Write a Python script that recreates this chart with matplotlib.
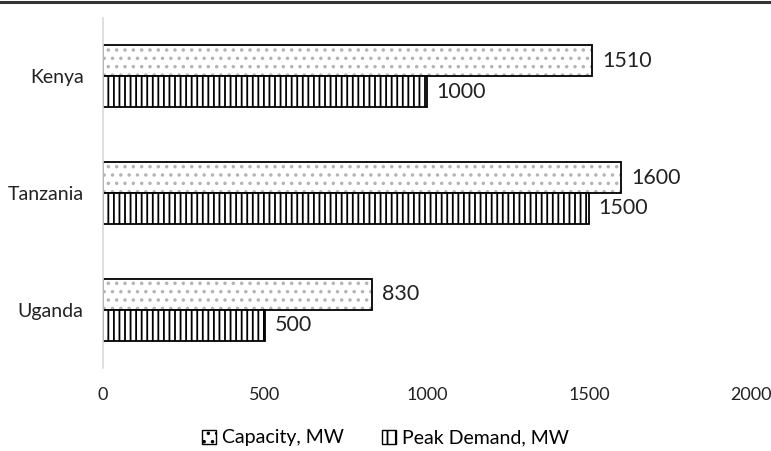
import matplotlib.pyplot as plt
import numpy as np
from matplotlib.lines import Line2D
from matplotlib.patches import Patch

plt.rcParams['font.family'] = ['Lato', 'DejaVu Sans']
plt.rcParams['hatch.linewidth'] = 1.3

countries = ['Uganda', 'Tanzania', 'Kenya']
capacity = [830, 1600, 1510]
peak_demand = [500, 1500, 1000]
x_ticks = [0, 500, 1000, 1500, 2000]

fig = plt.figure(figsize=(7.71, 4.51), dpi=100)
ax = fig.add_axes([103 / 771, 1 - 368 / 451, 648 / 771, 350 / 451])

y = np.arange(len(countries))
h = 0.265

# capacity: light grey dots under a black outline
ax.barh(y + h / 2, capacity, h, color='white', edgecolor='#b4b4b4', hatch='..', linewidth=0)
ax.barh(y + h / 2, capacity, h, color='none', edgecolor='black', linewidth=1.3)
# peak demand: vertical stripes
ax.barh(y - h / 2, peak_demand, h, color='white', edgecolor='black', hatch='|||', linewidth=1.3)

for yi, c, p in zip(y, capacity, peak_demand):
    ax.text(c + 30, yi + h / 2, str(c), va='center', ha='left', fontsize=15.5, color='#222222')
    ax.text(p + 30, yi - h / 2, str(p), va='center', ha='left', fontsize=15.5, color='#222222')

ax.set_xlim(0, 2000)
ax.set_ylim(-0.5, 2.5)
ax.set_xticks(x_ticks)
ax.set_xticklabels([str(t) for t in x_ticks], fontsize=13, color='#222222')
ax.set_yticks(y)
ax.set_yticklabels(countries, fontsize=14, color='#222222')
ax.tick_params(axis='both', length=0)
ax.tick_params(axis='x', pad=14)
ax.tick_params(axis='y', pad=14)

for side in ['top', 'right', 'bottom']:
    ax.spines[side].set_visible(False)
ax.spines['left'].set_color('#d9d9d9')
ax.spines['left'].set_linewidth(1.2)

handles = [
    Patch(facecolor='white', edgecolor='black', hatch='..', linewidth=1.0, label='Capacity, MW'),
    Patch(facecolor='white', edgecolor='black', hatch='||', linewidth=1.0, label='Peak Demand, MW'),
]
fig.legend(handles=handles, loc='center', bbox_to_anchor=(0.5, 1 - 438 / 451), ncol=2,
           frameon=False, fontsize=14, handlelength=0.7, handleheight=0.7,
           handletextpad=0.3, columnspacing=2.0)

# rule along the top edge
fig.add_artist(Line2D([0, 1], [1 - 1.5 / 451, 1 - 1.5 / 451], color='#333333', linewidth=2.2,
                      transform=fig.transFigure))

fig.savefig('out.png', dpi=100)
